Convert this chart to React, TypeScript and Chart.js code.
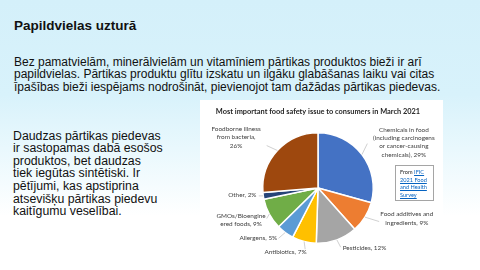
import React, { useEffect, useRef } from "react";
import { Chart, registerables } from "chart.js";

Chart.register(...registerables);

// ---- data ----
const chartTitle = "Most important food safety issue to consumers in March 2021";
const categories = [
  "Chemicals in food\n(including carcinogens\nor cancer-causing\nchemicals)",
  "Food additives and\ningredients",
  "Pesticides",
  "Antibiotics",
  "Allergens",
  "GMOs/Bioengine\nered foods",
  "Other",
  "Foodborne illness\nfrom bacteria",
];
const shares = [29, 9, 12, 7, 5, 9, 2, 26];
const sliceColors = ["#4472C4", "#ED7D31", "#A5A5A5", "#FFC000", "#5B9BD5", "#70AD47", "#264478", "#9E480E"];

// ---- label layout (style, relative to pie centre, in px at radius 56) ----
type LabelStyle = { dx: number; dy: number; align: CanvasTextAlign; lx: number; ly: number; valueOwnLine?: boolean };
const labelLayout: LabelStyle[] = [
  { dx: 87, dy: -46.5, align: "center", lx: 50, ly: -45 },
  { dx: 90, dy: 31, align: "center", lx: 62, ly: 34 },
  { dx: 25, dy: 61, align: "left", lx: 23, ly: 60 },
  { dx: -33, dy: 64.7, align: "center", lx: -13, ly: 62 },
  { dx: -60.5, dy: 51, align: "center", lx: -40, ly: 51 },
  { dx: -78, dy: 32.3, align: "center", lx: -52, ly: 31 },
  { dx: -76.7, dy: 7, align: "center", lx: -60, ly: 8 },
  { dx: -83, dy: -51.3, align: "center", lx: -52, ly: -43, valueOwnLine: true },
];

const LABEL_FONT = "6.4px Lato, 'Open Sans', sans-serif";
const LABEL_LH = 8.3;
const TITLE_FONT = "bold 7.4px Lato, 'Open Sans', sans-serif";

const labelPlugin = {
  id: "pieLabels",
  afterDatasetsDraw(chart: any) {
    const ctx: CanvasRenderingContext2D = chart.ctx;
    const meta = chart.getDatasetMeta(0);
    ctx.save();
    // chart title, centred over the pie
    const first = meta.data[0].getProps(["x", "y", "outerRadius"], true);
    ctx.font = TITLE_FONT;
    ctx.fillStyle = "#262626";
    ctx.textAlign = "center";
    ctx.textBaseline = "middle";
    ctx.fillText(chartTitle, first.x, first.y - first.outerRadius - 21.5);

    meta.data.forEach((arc: any, i: number) => {
      const p = arc.getProps(["x", "y", "startAngle", "endAngle", "outerRadius"], true);
      const s = p.outerRadius / 56;
      const mid = (p.startAngle + p.endAngle) / 2;
      const ex = p.x + Math.cos(mid) * p.outerRadius;
      const ey = p.y + Math.sin(mid) * p.outerRadius;
      const L = labelLayout[i];
      ctx.strokeStyle = "#b0b0b0";
      ctx.lineWidth = 0.6;
      ctx.beginPath();
      ctx.moveTo(ex, ey);
      ctx.lineTo(p.x + L.lx * s, p.y + L.ly * s);
      ctx.stroke();

      const value = chart.data.datasets[0].data[i];
      const text = L.valueOwnLine
        ? `${categories[i]},\n${value}%`
        : `${categories[i]}, ${value}%`;
      const lines = text.split("\n");
      ctx.font = LABEL_FONT;
      ctx.fillStyle = "#404040";
      ctx.textAlign = L.align;
      ctx.textBaseline = "middle";
      const cx = p.x + L.dx * s;
      const cy = p.y + L.dy * s;
      const top = cy - ((lines.length - 1) * LABEL_LH) / 2;
      lines.forEach((ln, k) => ctx.fillText(ln, cx, top + k * LABEL_LH));
    });
    ctx.restore();
  },
};

function PieChart() {
  const ref = useRef<HTMLCanvasElement>(null);
  useEffect(() => {
    const chart = new Chart(ref.current!, {
      type: "pie",
      data: {
        labels: categories,
        datasets: [
          {
            data: shares,
            backgroundColor: sliceColors,
            borderColor: "#ffffff",
            borderWidth: 1.5,
          },
        ],
      },
      options: {
        animation: false,
        responsive: false,
        maintainAspectRatio: false,
        layout: { padding: { top: 32, left: 62, right: 69, bottom: 14 } },
        plugins: {
          legend: { display: false },
          tooltip: { enabled: false },
          title: { display: false },
        },
      } as any,
      plugins: [labelPlugin],
    });
    return () => chart.destroy();
  }, []);
  return <canvas ref={ref} width={243} height={158} style={{ width: 243, height: 158, display: "block" }} />;
}

const linkStyle: React.CSSProperties = { color: "#0563C1", textDecoration: "underline" };

export default function App() {
  return (
    <div
      style={{
        position: "fixed",
        left: 0,
        top: 0,
        width: 480,
        height: 270,
        overflow: "hidden",
        background:
          "linear-gradient(180deg, #d4f0fa 0%, #d8f2fb 35%, #e9f8fd 55%, #ffffff 80%)",
        fontFamily: "'Liberation Sans', Arial, sans-serif",
        color: "#111",
      }}
    >
      <div style={{ position: "absolute", left: 14, top: 17, fontSize: 13.5, fontWeight: "bold", lineHeight: "18px", whiteSpace: "nowrap" }}>
        Papildvielas uzturā
      </div>
      <div style={{ position: "absolute", left: 14, top: 55.5, fontSize: 12, lineHeight: "12.5px", whiteSpace: "nowrap" }}>
        Bez pamatvielām, minerālvielām un vitamīniem pārtikas produktos bieži ir arī
        <br />
        papildvielas. Pārtikas produktu glītu izskatu un ilgāku glabāšanas laiku vai citas
        <br />
        īpašības bieži iespējams nodrošināt, pievienojot tam dažādas pārtikas piedevas.
      </div>
      <div style={{ position: "absolute", left: 13, top: 129.7, fontSize: 12.3, lineHeight: "12.6px", whiteSpace: "nowrap" }}>
        Daudzas pārtikas piedevas
        <br />
        ir sastopamas dabā esošos
        <br />
        produktos, bet daudzas
        <br />
        tiek iegūtas sintētiski. Ir
        <br />
        pētījumi, kas apstiprina
        <br />
        atsevišķu pārtikas piedevu
        <br />
        kaitīgumu veselībai.
      </div>
      <div style={{ position: "absolute", left: 200, top: 100, width: 243, height: 158, background: "#ffffff" }}>
        <PieChart />
        <div
          style={{
            position: "absolute",
            left: 195,
            top: 65,
            width: 39,
            height: 36,
            boxSizing: "border-box",
            border: "0.8px solid #a5a5a5",
            padding: "2px 0 0 4px",
            fontFamily: "Lato, 'Open Sans', sans-serif",
            fontSize: 5.6,
            lineHeight: "7.7px",
            color: "#262626",
            whiteSpace: "nowrap",
          }}
        >
          From <span style={linkStyle}>IFIC</span>
          <br />
          <span style={linkStyle}>2021 Food</span>
          <br />
          <span style={linkStyle}>and Health</span>
          <br />
          <span style={linkStyle}>Survey</span>
        </div>
      </div>
    </div>
  );
}
